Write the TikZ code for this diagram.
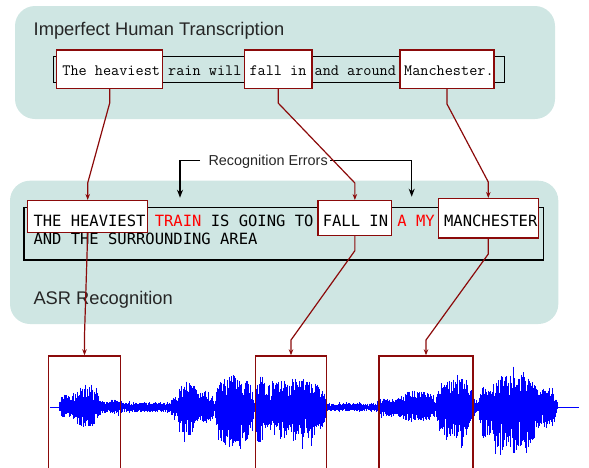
\documentclass[tikz,border=0pt]{standalone}
\usepackage{fontspec}
\setmainfont{Liberation Sans}
\newfontfamily\asrfont{DejaVu Sans Mono}
\usetikzlibrary{fit,arrows.meta}
\definecolor{panelc}{HTML}{CFE6E3}
\definecolor{boxred}{HTML}{8B0A0A}
\definecolor{errred}{HTML}{FF0000}
\definecolor{wave}{HTML}{0000FF}
\tikzset{
  panel/.style={fill=panelc,draw=none,rounded corners=20pt,inner sep=0pt},
  blackbox/.style={draw=black,line width=1.1pt,inner sep=0pt},
  redbox/.style={draw=boxred,fill=white,line width=1.4pt,inner sep=0pt},
  wavebox/.style={draw=boxred,line width=1.4pt,inner sep=0pt},
  redline/.style={draw=boxred,line width=1.2pt,-{Stealth[length=6pt,width=4.5pt]}},
  blackline/.style={draw=black,line width=1.3pt,-{Stealth[length=8pt,width=6pt]}},
  titletext/.style={font=\fontsize{18.3}{22}\selectfont,inner sep=0pt,text=black!85},
  errtext/.style={font=\fontsize{14.4}{17}\selectfont,inner sep=0pt,text=black!85},
  toptext/.style={font=\ttfamily\fontsize{15.8}{18}\selectfont,inner sep=0pt},
  asrtext/.style={font=\asrfont\fontsize{15.5}{17.6}\selectfont,inner sep=0pt}
}
\begin{document}
\begin{tikzpicture}[x=1pt,y=-1pt]
\clip (0,0) rectangle (589,467);
\useasboundingbox (0,0) rectangle (589,467);
% ---- top panel
\node[panel,fit={(15,6)(555,119)}] (ptop) {};
\node[titletext,anchor=base west] (ttop) at (33.5,35) {Imperfect Human Transcription};
\node[blackbox,fit={(53.3,56.7)(504.7,82.7)}] (bt) {};
\node[redbox,fit={(56.7,50)(162.7,88.3)}] (t1) {};
\node[redbox,fit={(244.3,50)(312,88.3)}] (t2) {};
\node[redbox,fit={(400,50)(494,88.3)}] (t3) {};
\node[toptext,anchor=base west] (ttxt) at (62.2,75) {The heaviest rain will fall in and around Manchester.};
% ---- ASR panel
\node[panel,fit={(10,180.7)(558.3,324)}] (pasr) {};
\node[blackbox,fit={(24,207.3)(543.3,260)}] (ba) {};
\node[redbox,fit={(27.7,200.7)(147.7,232.3)}] (a1) {};
\node[redbox,fit={(318,200.7)(391.7,235.3)}] (a2) {};
\node[redbox,fit={(438.3,198.7)(538.3,238)}] (a3) {};
\node[asrtext,anchor=base west] (al1) at (33.3,226.7) {THE HEAVIEST \textcolor{errred}{TRAIN} IS GOING TO FALL IN \textcolor{errred}{A MY} MANCHESTER};
\node[asrtext,anchor=base west] (al2) at (33.3,244.3) {AND THE SURROUNDING AREA};
\node[titletext,anchor=base west] (tasr) at (33.3,304) {ASR Recognition};
% ---- recognition errors
\node[errtext,anchor=base west] (re) at (208.3,165.7) {Recognition Errors};
\coordinate (cl) at (200,160.7);
\coordinate (cr) at (330,160.7);
\coordinate (e1) at (180,197.7);
\coordinate (e2) at (411.7,196.7);
\draw[blackline] (cl) -| (e1);
\draw[blackline] (cr) -| (e2);
% ---- waveform
\pgfmathsetseed{31}
\draw[wave,line width=0.7pt] (50,407.3) -- (579,407.3);
\foreach \xa/\xb/\au/\ad/\kind in {
  59/72/15/11/0, 70/101/21/20/0, 100/107/6/6/1, 105/121/8/8/0, 120/171/5/5/1,
  170/179/10/10/0, 177/199/26/29/0, 196/214/17/16/0, 213/216/4/4/1,
  215/253/35/44/0, 252/256/5/5/1, 255/266/32/39/0, 264/326/29/35/0, 325/377/4/4/1,
  376/400/10/10/0, 396/437/17/15/0, 436/474/28/34/0, 473/480/6/6/1,
  479/490/22/32/0, 486/540/33/46/0, 535/557/18/20/0}{
  \pgfmathsetmacro\xs{\xa+0.5}
  \foreach \x in {\xa,\xs,...,\xb}{
    \pgfmathsetmacro\tt{(\x-\xa)/(\xb-\xa)}
    \pgfmathsetmacro\env{\kind==1 ? 1 : pow(max(sin(180*\tt),0.02),0.3)}
    \pgfmathsetmacro\spk{rnd>0.9 ? 1.25 : 1}
    \pgfmathsetmacro\up{\au*\env*\spk*(0.3+0.7*rnd)}
    \pgfmathsetmacro\dn{\ad*\env*\spk*(0.3+0.7*rnd)}
    \draw[wave,line width=0.75pt] (\x,407.3-\up) -- (\x,407.3+\dn);
  }
}
\node[wavebox,fit={(48.3,356)(120.7,480)}] (w1) {};
\node[wavebox,fit={(255.7,356)(326.3,480)}] (w2) {};
\node[wavebox,fit={(379,356)(473,480)}] (w3) {};
% ---- red connectors
\draw[redline] (t1.south) -- (t1.south |- 0,103) -- (a1.north |- 0,183) -- (a1.north);
\draw[redline] (t2.south) -- (t2.south |- 0,103) -- (a2.north |- 0,183) -- (a2.north);
\draw[redline] (t3.south) -- (t3.south |- 0,104) -- (a3.north |- 0,182) -- (a3.north);
\draw[redline] (a1.south) -- (w1.north |- 0,335) -- (w1.north);
\draw[redline] (a2.south) -- (a2.south |- 0,250.7) -- (w2.north |- 0,340) -- (w2.north);
\draw[redline] (a3.south) -- (a3.south |- 0,254) -- (w3.north |- 0,340) -- (w3.north);
\end{tikzpicture}
\end{document}
